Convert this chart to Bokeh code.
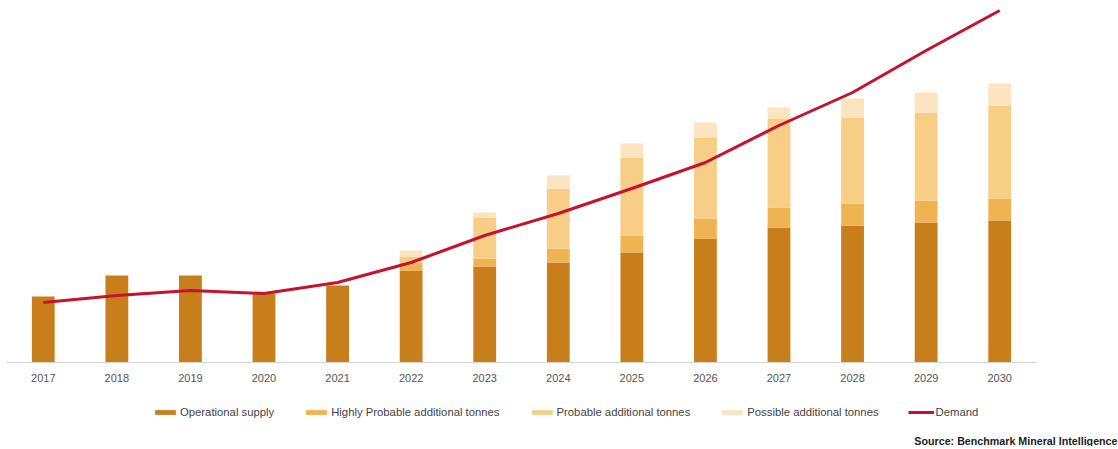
from bokeh.plotting import figure
from bokeh.layouts import column
from bokeh.models import Range1d, FactorRange, Legend, LegendItem, Title, ColumnDataSource
from bokeh.embed import file_html
from bokeh.resources import INLINE

years = [str(y) for y in range(2017, 2031)]
operational = [66, 87, 87, 69, 77, 92, 96, 100, 110, 124, 135, 137, 140, 142]
highly_probable = [0, 0, 0, 0, 0, 8, 8, 14, 17, 20, 20, 22, 22, 22]
probable = [0, 0, 0, 0, 0, 6, 41, 60, 78, 81, 89, 86, 88, 93]
possible = [0, 0, 0, 0, 0, 6, 5, 13, 14, 15, 11, 19, 20, 22]
demand = [60, 67, 72, 69, 80, 100, 127, 149, 174, 200, 237, 270, 312, 352]

series_names = ["Operational supply", "Highly Probable additional tonnes",
                "Probable additional tonnes", "Possible additional tonnes"]
colors = ["#C97E1C", "#F0B352", "#F8CE86", "#FBE4C0"]
demand_color = "#C4122F"
FONT = "Liberation Sans"

src = ColumnDataSource(dict(year=years, op=operational, hp=highly_probable,
                            pr=probable, po=possible, demand=demand))

# ---- main chart ----
p = figure(x_range=FactorRange(factors=years, range_padding=0),
           y_range=Range1d(0, 354),
           width=1118, height=392,
           min_border_left=6, min_border_right=82, min_border_top=8, min_border_bottom=30,
           y_axis_location=None,
           output_backend="svg", toolbar_location=None)

p.vbar_stack(["op", "hp", "pr", "po"], x="year", width=0.31, color=colors,
             line_color=None, source=src)
p.line(x="year", y="demand", line_color=demand_color, line_width=3, source=src)

p.outline_line_color = None
p.xgrid.grid_line_color = None
p.ygrid.grid_line_color = None
p.xaxis.axis_line_color = "#d4d4d4"
p.xaxis.major_tick_line_color = None
p.xaxis.minor_tick_line_color = None
p.xaxis.major_label_standoff = 5
p.xaxis.major_label_text_font = FONT
p.xaxis.major_label_text_font_size = "11px"
p.xaxis.major_label_text_color = "#555555"

# ---- legend / source strip (same series, hidden; only their legend entries show) ----
q = figure(x_range=p.x_range, y_range=Range1d(1000, 1054),
           width=1118, height=54,
           min_border_left=6, min_border_right=82, min_border_top=0, min_border_bottom=0,
           x_axis_location=None, y_axis_location=None,
           output_backend="svg", toolbar_location=None)
q.outline_line_color = None
q.xgrid.grid_line_color = None
q.ygrid.grid_line_color = None

leg_bars = q.vbar_stack(["op", "hp", "pr", "po"], x="year", width=0.31, color=colors,
                        line_color=None, source=src)
leg_line = q.line(x="year", y="demand", line_color=demand_color, line_width=3, source=src)
for r in leg_bars + [leg_line]:
    r.visible = False

items = [LegendItem(label=n, renderers=[r]) for n, r in zip(series_names, leg_bars)]
items.append(LegendItem(label="Demand", renderers=[leg_line]))
legend = Legend(items=items, orientation="horizontal", location=(146, 14),
                glyph_width=26, glyph_height=6, label_standoff=2, spacing=29,
                label_text_font=FONT, label_text_font_size="11.3px",
                label_text_color="#444444", border_line_color=None,
                background_fill_alpha=0, padding=0, margin=0,
                inactive_fill_alpha=0)
q.add_layout(legend, "center")

q.add_layout(Title(text="Source: Benchmark Mineral Intelligence", align="right",
                   offset=-81, standoff=0,
                   text_font=FONT, text_font_size="10.7px",
                   text_font_style="bold", text_color="#222222"), "below")

layout = column(p, q, spacing=0)
open("out.html", "w").write(file_html(layout, INLINE))
